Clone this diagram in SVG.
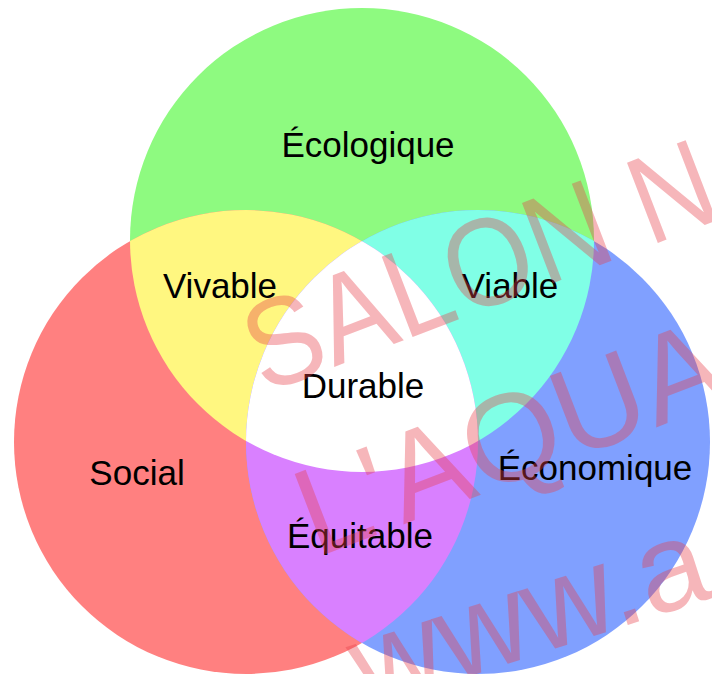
<svg xmlns="http://www.w3.org/2000/svg" width="712" height="674" viewBox="0 0 712 674">
  <style>
    .lbl { font-family: "Liberation Sans", Arial, sans-serif; font-size: 35px; fill: #000; text-anchor: middle; }
    .wm { font-family: "Liberation Sans", Arial, sans-serif; font-size: 125px; fill: #E8404A; fill-opacity: 0.38; }
  </style>
  <defs>
    <clipPath id="cG"><circle cx="362" cy="240" r="232"/></clipPath>
    <clipPath id="cR"><circle cx="246" cy="442" r="232"/></clipPath>
    <clipPath id="cB"><circle cx="478" cy="442" r="232"/></clipPath>
  </defs>
  <rect width="712" height="674" fill="#fff"/>
  <g id="circles">
    <circle id="ecologique" cx="362" cy="240" r="232" fill="#8EFA80"/>
    <circle id="social" cx="246" cy="442" r="232" fill="#FF8080"/>
    <circle id="economique" cx="478" cy="442" r="232" fill="#80A0FF"/>
    <g id="vivable-region" clip-path="url(#cG)"><circle cx="246" cy="442" r="232" fill="#FFF780"/></g>
    <g id="viable-region" clip-path="url(#cG)"><circle cx="478" cy="442" r="232" fill="#80FFE6"/></g>
    <g id="equitable-region" clip-path="url(#cR)"><circle cx="478" cy="442" r="232" fill="#D980FF"/></g>
    <g id="durable-region" clip-path="url(#cG)"><g clip-path="url(#cR)"><circle cx="478" cy="442" r="232" fill="#FFFFFF"/></g></g>
  </g>
  <g id="labels">
    <g id="n-ecologique"><text class="lbl" x="368" y="157">Écologique</text></g>
    <g id="n-vivable"><text class="lbl" x="220" y="298">Vivable</text></g>
    <g id="n-viable"><text class="lbl" x="510" y="298">Viable</text></g>
    <g id="n-durable"><text class="lbl" x="363" y="398">Durable</text></g>
    <g id="n-social"><text class="lbl" x="137" y="485">Social</text></g>
    <g id="n-economique"><text class="lbl" x="595" y="480">Économique</text></g>
    <g id="n-equitable"><text class="lbl" x="360" y="548">Équitable</text></g>
  </g>
  <g id="watermark">
    <text class="wm" transform="translate(264 394) rotate(-21) scale(0.9 1)">SALON N</text>
    <text class="wm" transform="translate(316 558) rotate(-21)">L'AQUA</text>
    <text class="wm" transform="translate(366 710) rotate(-18)">www.a</text>
  </g>
</svg>
